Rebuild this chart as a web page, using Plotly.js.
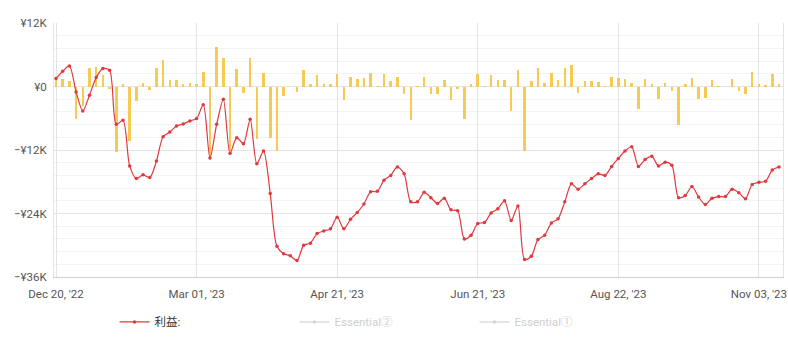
<!DOCTYPE html>
<html>
<head>
<meta charset="utf-8">
<script src="https://cdn.plot.ly/plotly-3.0.1.min.js"></script>
<style>html,body{margin:0;padding:0;background:#fff;}#chart{width:788px;height:352px;}</style>
</head>
<body>
<div id="chart"></div>
<script>
// Tick labels along the (trading-day) category axis, one every 21 points
const tickLabels = ["Dec 20, '22", "Mar 01, '23", "Apr 21, '23", "Jun 21, '23", "Aug 22, '23", "Nov 03, '23"];
const tickEvery = 21;

// Cumulative profit (¥)
const profit = [1490, 2870, 3880, -1040, -4630, -1660, 1680, 3380, 3060, -7150,
  -6390, -15000, -17400, -16700, -17200, -14100, -9500, -8600, -7460, -7080,
  -6500, -6070, -3430, -13500, -7150, -2420, -12600, -9670, -10800, -6200,
  -14600, -12200, -20200, -30200, -31600, -32000, -32900, -30000, -29600, -27800,
  -27300, -26900, -24700, -26900, -25100, -23800, -22200, -19900, -19800, -17700,
  -16800, -15200, -16500, -21800, -21800, -20000, -21000, -22100, -21100, -23300,
  -23500, -28800, -28100, -25900, -25700, -23900, -23100, -21600, -25300, -22600,
  -32700, -32100, -28900, -28100, -25800, -25000, -21800, -18400, -19400, -18400,
  -17400, -16500, -16800, -15100, -13600, -12200, -11400, -15100, -13800, -13200,
  -15000, -14300, -14900, -21000, -20600, -18900, -20900, -22300, -21100, -20800,
  -20800, -19400, -20100, -21200, -18500, -18100, -17900, -15800, -15200];

// Per-period profit/loss bars (¥)
const daily = [1300, 1500, 1000, -6100, -3600, 3500, 3700, 2100, -500, -12400,
  550, -10300, -2800, 700, -700, 3500, 5100, 1300, 1300, 400,
  700, 400, 2750, -13600, 7500, 5400, -12100, 3400, -1200, 5300,
  -9900, 2600, -9700, -12200, -1850, -100, -1000, 3200, 400, 2100,
  400, 550, 2400, -2500, 1800, 1500, 1700, 2600, 50, 2400,
  1000, 1800, -1500, -6400, 100, 1800, -1350, -1350, 1200, -2600,
  -500, -6100, 550, 2400, 100, 2200, 1200, 1300, -4600, 3100,
  -12100, 1000, 3500, 700, 2600, 1200, 3500, 4000, -1200, 1000,
  1000, 850, 100, 1800, 1700, 1500, 700, -4300, 1500, 550,
  -2300, 700, -900, -7300, 550, 1700, -2300, -2100, 1300, 150,
  0, 1500, -900, -1350, 2750, 550, 200, 2300, 550];

// Y axis ticks
const yTickVals = [12000, 0, -12000, -24000, -36000];
const yTickText = ["¥12K", "¥0", "−¥12K", "−¥24K", "−¥36K"];

const seriesNames = ["利益:", "Essential②", "Essential①"];

const idx = profit.map((_, i) => i);
const xTickVals = tickLabels.map((_, i) => i * tickEvery);

const traces = [
  {
    type: 'bar', x: idx, y: daily, width: 0.38,
    marker: {color: '#f7cb52'}, showlegend: false, hoverinfo: 'skip'
  },
  {
    type: 'scatter', mode: 'lines+markers', x: idx, y: profit, name: seriesNames[0],
    line: {color: '#e0393e', width: 1.2, shape: 'spline', smoothing: 0.8},
    marker: {color: '#e0393e', size: 3.5}
  },
  {
    type: 'scatter', mode: 'lines+markers', x: [0], y: [0], name: '<span style="color:#a0a0a0">' + seriesNames[1] + '</span>',
    visible: 'legendonly', line: {color: '#aaaaaa', width: 1.2}, marker: {color: '#aaaaaa', size: 3.5}
  },
  {
    type: 'scatter', mode: 'lines+markers', x: [0], y: [0], name: '<span style="color:#a0a0a0">' + seriesNames[2] + '</span>',
    visible: 'legendonly', line: {color: '#aaaaaa', width: 1.2}, marker: {color: '#aaaaaa', size: 3.5}
  }
];

const layout = {
  width: 788, height: 352,
  margin: {l: 54, r: 5, t: 23, b: 75},
  paper_bgcolor: '#ffffff', plot_bgcolor: '#ffffff',
  font: {family: 'Roboto, "Noto Sans CJK JP", sans-serif', size: 11.5, color: '#555555'},
  showlegend: true,
  bargap: 0,
  xaxis: {
    range: [-0.3, 108.6],
    tickmode: 'array', tickvals: xTickVals, ticktext: tickLabels,
    showgrid: true, gridcolor: '#e4e4e4', gridwidth: 1,
    showline: true, linecolor: '#cfcfcf', linewidth: 1, mirror: false,
    ticks: '', ticklen: 0, zeroline: false, ticklabelstandoff: 6,
    tickfont: {size: 11.5, color: '#555555'}
  },
  yaxis: {
    range: [-36000, 12000],
    tickmode: 'array', tickvals: yTickVals, ticktext: yTickText,
    showgrid: true, gridcolor: '#e4e4e4', gridwidth: 1,
    minor: {tickmode: 'linear', tick0: 0, dtick: 2400, showgrid: true, gridcolor: '#f3f3f3', ticks: ''},
    showline: true, linecolor: '#e4e4e4', linewidth: 1, mirror: true,
    zeroline: false, ticks: '', ticklabelstandoff: 4,
    tickfont: {size: 11.5, color: '#555555'}
  },
  legend: {
    orientation: 'h', x: 0.083, xanchor: 'left', y: -0.177, yanchor: 'middle',
    entrywidth: 135, entrywidthmode: 'pixels',
    font: {size: 11.5, color: '#333333'}, bgcolor: 'rgba(0,0,0,0)'
  }
};

Plotly.newPlot('chart', traces, layout, {displayModeBar: false, staticPlot: true});
</script>
</body>
</html>
